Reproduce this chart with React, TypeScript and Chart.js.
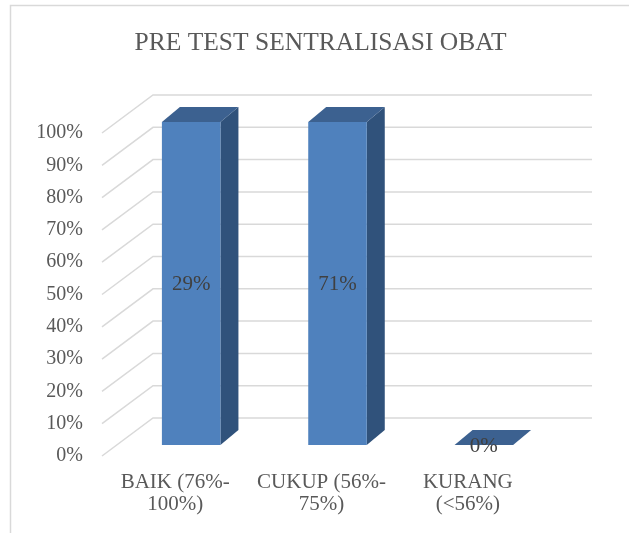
import React, { useEffect, useRef } from "react";
import { Chart, registerables } from "chart.js";

Chart.register(...registerables);

const titleText = "PRE TEST SENTRALISASI OBAT";
const categories = [
  ["BAIK (76%-", "100%)"],
  ["CUKUP (56%-", "75%)"],
  ["KURANG", "(<56%)"],
];
const barValues = [100, 100, 0];
const valueLabels = ["29%", "71%", "0%"];
const yMin = 0;
const yMax = 100;
const yStep = 10;

// 3D projection offsets (px)
const WALL_DX = 51;
const WALL_DY = 38;
const BAR_SHIFT_X = 16;
const BAR_SHIFT_Y = -11;
const DEPTH_DX = 18;
const DEPTH_DY = -15;

const FRONT = "#4f81bd";
const TOP = "#3c6190";
const SIDE = "#30527b";
const GRID = "#d9d9d9";
const TEXT = "#595959";
const LABEL = "#404040";
const SERIF = "'Liberation Serif', 'Times New Roman', serif";

const framePlugin = {
  id: "frame",
  beforeDraw(chart: any) {
    const ctx = chart.ctx;
    ctx.save();
    ctx.fillStyle = "#ffffff";
    ctx.fillRect(0, 0, chart.width, chart.height);
    ctx.strokeStyle = GRID;
    ctx.lineWidth = 1.5;
    ctx.beginPath();
    ctx.moveTo(10.5, chart.height + 5);
    ctx.lineTo(10.5, 5.5);
    ctx.lineTo(chart.width + 5, 5.5);
    ctx.stroke();
    ctx.fillStyle = TEXT;
    ctx.font = `25.5px ${SERIF}`;
    ctx.textAlign = "center";
    ctx.textBaseline = "alphabetic";
    ctx.fillText(titleText, 320.5, 50);
    ctx.restore();
  },
};

const wallPlugin = {
  id: "walls",
  beforeDatasetsDraw(chart: any) {
    const ctx = chart.ctx;
    const y = chart.scales.y;
    const area = chart.chartArea;
    ctx.save();
    ctx.strokeStyle = GRID;
    ctx.lineWidth = 1.5;
    y.ticks.forEach((t: any) => {
      const py = y.getPixelForValue(t.value);
      ctx.beginPath();
      ctx.moveTo(area.left, py);
      ctx.lineTo(area.left + WALL_DX, py - WALL_DY);
      ctx.lineTo(area.right + WALL_DX, py - WALL_DY);
      ctx.stroke();
    });
    ctx.restore();
  },
};

const bar3dPlugin = {
  id: "bar3d",
  afterDatasetsDraw(chart: any) {
    const ctx = chart.ctx;
    const meta = chart.getDatasetMeta(0);
    ctx.save();
    meta.data.forEach((el: any, i: number) => {
      const cx = el.x + BAR_SHIFT_X;
      const w = el.width;
      const xl = cx - w / 2;
      const xr = cx + w / 2;
      const yt = el.y + BAR_SHIFT_Y;
      const yb = el.base + BAR_SHIFT_Y;
      // side face
      if (yb - yt > 0.5) {
        ctx.fillStyle = SIDE;
        ctx.beginPath();
        ctx.moveTo(xr, yt);
        ctx.lineTo(xr + DEPTH_DX, yt + DEPTH_DY);
        ctx.lineTo(xr + DEPTH_DX, yb + DEPTH_DY);
        ctx.lineTo(xr, yb);
        ctx.closePath();
        ctx.fill();
      }
      // top face
      ctx.fillStyle = TOP;
      ctx.beginPath();
      ctx.moveTo(xl, yt);
      ctx.lineTo(xl + DEPTH_DX, yt + DEPTH_DY);
      ctx.lineTo(xr + DEPTH_DX, yt + DEPTH_DY);
      ctx.lineTo(xr, yt);
      ctx.closePath();
      ctx.fill();
      // front face
      if (yb - yt > 0.5) {
        ctx.fillStyle = FRONT;
        ctx.fillRect(xl, yt, w, yb - yt);
      }
      // value label
      ctx.fillStyle = LABEL;
      ctx.font = `21px ${SERIF}`;
      ctx.textAlign = "center";
      ctx.textBaseline = "middle";
      ctx.fillText(valueLabels[i], cx, (yt + yb) / 2 + 1);
    });
    ctx.restore();
  },
};

export default function App() {
  const ref = useRef<HTMLCanvasElement | null>(null);
  useEffect(() => {
    if (!ref.current) return;
    const chart = new Chart(ref.current, {
      type: "bar",
      data: {
        labels: categories as any,
        datasets: [
          {
            data: barValues,
            backgroundColor: "rgba(0,0,0,0)",
            borderWidth: 0,
            barPercentage: 0.4,
            categoryPercentage: 1,
          },
        ],
      },
      options: {
        animation: false,
        responsive: false,
        devicePixelRatio: 1,
        layout: { padding: { left: 0, right: 88, top: 133, bottom: 0 } },
        plugins: {
          legend: { display: false },
          tooltip: { enabled: false },
          title: { display: false },
        },
        scales: {
          x: {
            grid: { display: false, drawTicks: false },
            border: { display: false },
            ticks: {
              color: TEXT,
              font: { family: SERIF, size: 21, lineHeight: 1.07 },
              padding: 15,
              maxRotation: 0,
              autoSkip: false,
            },
            afterFit: (s: any) => {
              s.height = 77;
            },
          },
          y: {
            min: yMin,
            max: yMax,
            grid: { display: false, drawTicks: false },
            border: { display: false },
            ticks: {
              stepSize: yStep,
              color: TEXT,
              font: { family: SERIF, size: 20 },
              padding: 19,
              callback: (v: any) => `${v}%`,
            },
            afterFit: (s: any) => {
              s.width = 102;
            },
          },
        },
      },
      plugins: [framePlugin, wallPlugin, bar3dPlugin],
    });
    return () => chart.destroy();
  }, []);
  return (
    <div style={{ position: "absolute", left: 0, top: 0, width: 629, height: 533 }}>
      <canvas ref={ref} width={629} height={533} />
    </div>
  );
}
